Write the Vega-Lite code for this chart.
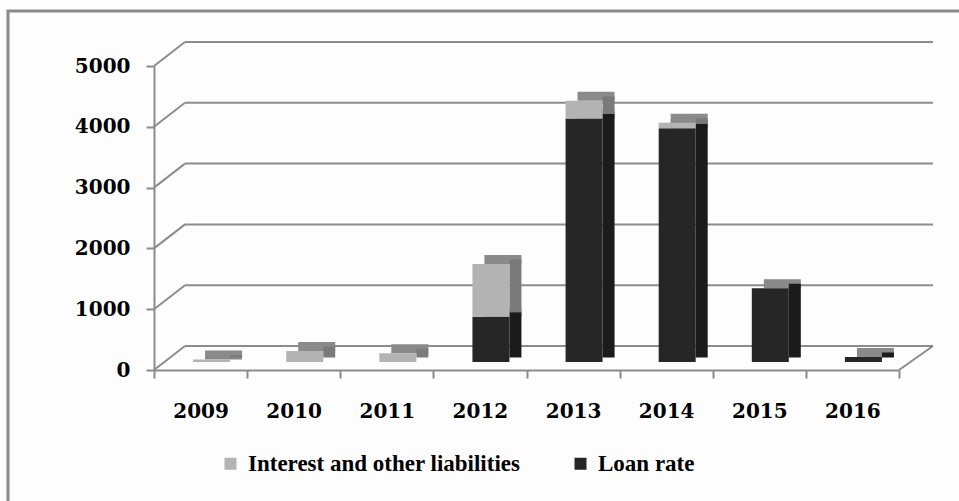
{
  "$schema": "https://vega.github.io/schema/vega-lite/v6.json",
  "width": 951,
  "height": 490,
  "autosize": {"type": "none"},
  "padding": {"left": 8, "top": 11, "right": 0, "bottom": 0},
  "background": "#fdfdfd",
  "datasets": {
    "bars": [
      {"year": "2009", "series": "Interest and other liabilities", "value": 40},
      {"year": "2010", "series": "Interest and other liabilities", "value": 180},
      {"year": "2011", "series": "Interest and other liabilities", "value": 143},
      {"year": "2012", "series": "Loan rate", "value": 745},
      {"year": "2012", "series": "Interest and other liabilities", "value": 867},
      {"year": "2013", "series": "Loan rate", "value": 4005},
      {"year": "2013", "series": "Interest and other liabilities", "value": 290},
      {"year": "2014", "series": "Loan rate", "value": 3844},
      {"year": "2014", "series": "Interest and other liabilities", "value": 92},
      {"year": "2015", "series": "Loan rate", "value": 1212},
      {"year": "2016", "series": "Loan rate", "value": 82}
    ],
    "grid": [{"v": 0}, {"v": 1000}, {"v": 2000}, {"v": 3000}, {"v": 4000}, {"v": 5000}]
  },
  "config": {
    "view": {"stroke": "#8a8a8a", "strokeWidth": 3, "strokeDash": [951, 1441, 490], "fill": null},
    "axis": {
      "domainColor": "#8c8c8c",
      "domainWidth": 2,
      "tickColor": "#8c8c8c",
      "tickWidth": 2,
      "tickSize": 8,
      "labelFont": "DejaVu Serif",
      "labelFontWeight": "bold",
      "labelFontSize": 20,
      "labelColor": "#000000",
      "grid": false,
      "title": null
    },
    "legend": {
      "labelFont": "Liberation Serif",
      "labelFontWeight": "bold",
      "labelFontSize": 23,
      "labelColor": "#000000",
      "labelLimit": 500
    }
  },
  "layer": [
    {
      "data": {"name": "grid"},
      "mark": {"type": "rule", "color": "#8c8c8c", "strokeWidth": 2, "xOffset": 31, "x2Offset": 34, "yOffset": -24},
      "encoding": {
        "x": {"datum": "2009", "type": "nominal", "bandPosition": 0, "scale": {"paddingInner": 0, "paddingOuter": 0, "range": [146, 891]}, "axis": {"labelAngle": 0, "tickBand": "extent", "labelBaseline": "alphabetic", "labelPadding": 39, "offset": -131}},
        "x2": {"datum": "2016", "bandPosition": 1},
        "y": {"field": "v", "type": "quantitative", "scale": {"domain": [0, 5000], "nice": false, "range": [359, 55]}, "axis": {"values": [0, 1000, 2000, 3000, 4000, 5000], "format": "d", "labelPadding": 16, "offset": -146}}
      }
    },
    {
      "data": {"name": "grid"},
      "mark": {"type": "rule", "color": "#8c8c8c", "strokeWidth": 2, "x2Offset": 31, "y2Offset": -24},
      "encoding": {
        "x": {"datum": "2009", "type": "nominal", "bandPosition": 0},
        "x2": {"datum": "2009", "bandPosition": 0},
        "y": {"field": "v", "type": "quantitative"},
        "y2": {"field": "v"}
      }
    },
    {
      "data": {"name": "grid"},
      "transform": [{"filter": "datum.v === 0"}],
      "mark": {"type": "rule", "color": "#8c8c8c", "strokeWidth": 2, "x2Offset": 34, "y2Offset": -24},
      "encoding": {
        "x": {"datum": "2016", "type": "nominal", "bandPosition": 1},
        "x2": {"datum": "2016", "bandPosition": 1},
        "y": {"field": "v", "type": "quantitative"},
        "y2": {"field": "v"}
      }
    },
    {
      "data": {"name": "bars"},
      "transform": [{"stack": "value", "groupby": ["year"], "sort": [{"field": "series", "order": "descending"}], "as": ["v0", "v1"]}],
      "mark": {"type": "bar", "width": 37, "xOffset": 23, "yOffset": -17, "y2Offset": -8, "color": "#8a8a8a"},
      "encoding": {
        "x": {"field": "year", "type": "nominal"},
        "y": {"field": "v1", "type": "quantitative"},
        "y2": {"field": "v1"}
      }
    },
    {
      "data": {"name": "bars"},
      "transform": [{"stack": "value", "groupby": ["year"], "sort": [{"field": "series", "order": "descending"}], "as": ["v0", "v1"]}],
      "mark": {"type": "bar", "width": 12, "xOffset": 35.5, "yOffset": -12.5, "y2Offset": -12.5},
      "encoding": {
        "x": {"field": "year", "type": "nominal"},
        "y": {"field": "v1", "type": "quantitative"},
        "y2": {"field": "v0"},
        "color": {"condition": {"test": "datum.series === 'Loan rate'", "value": "#1b1b1b"}, "value": "#7a7a7a"}
      }
    },
    {
      "data": {"name": "bars"},
      "transform": [{"stack": "value", "groupby": ["year"], "sort": [{"field": "series", "order": "descending"}], "as": ["v0", "v1"]}],
      "mark": {"type": "bar", "width": 37, "xOffset": 11, "yOffset": -8, "y2Offset": -8},
      "encoding": {
        "x": {"field": "year", "type": "nominal"},
        "y": {"field": "v1", "type": "quantitative"},
        "y2": {"field": "v0"},
        "color": {
          "field": "series", "type": "nominal",
          "scale": {"domain": ["Interest and other liabilities", "Loan rate"], "range": ["#b3b3b3", "#262626"]},
          "legend": {
            "title": null, "orient": "none", "direction": "horizontal",
            "legendX": 211, "legendY": 441,
            "symbolType": "square", "symbolSize": 144, "symbolStrokeWidth": 0,
            "labelOffset": 6, "columnPadding": 48
          }
        }
      }
    }
  ]
}
